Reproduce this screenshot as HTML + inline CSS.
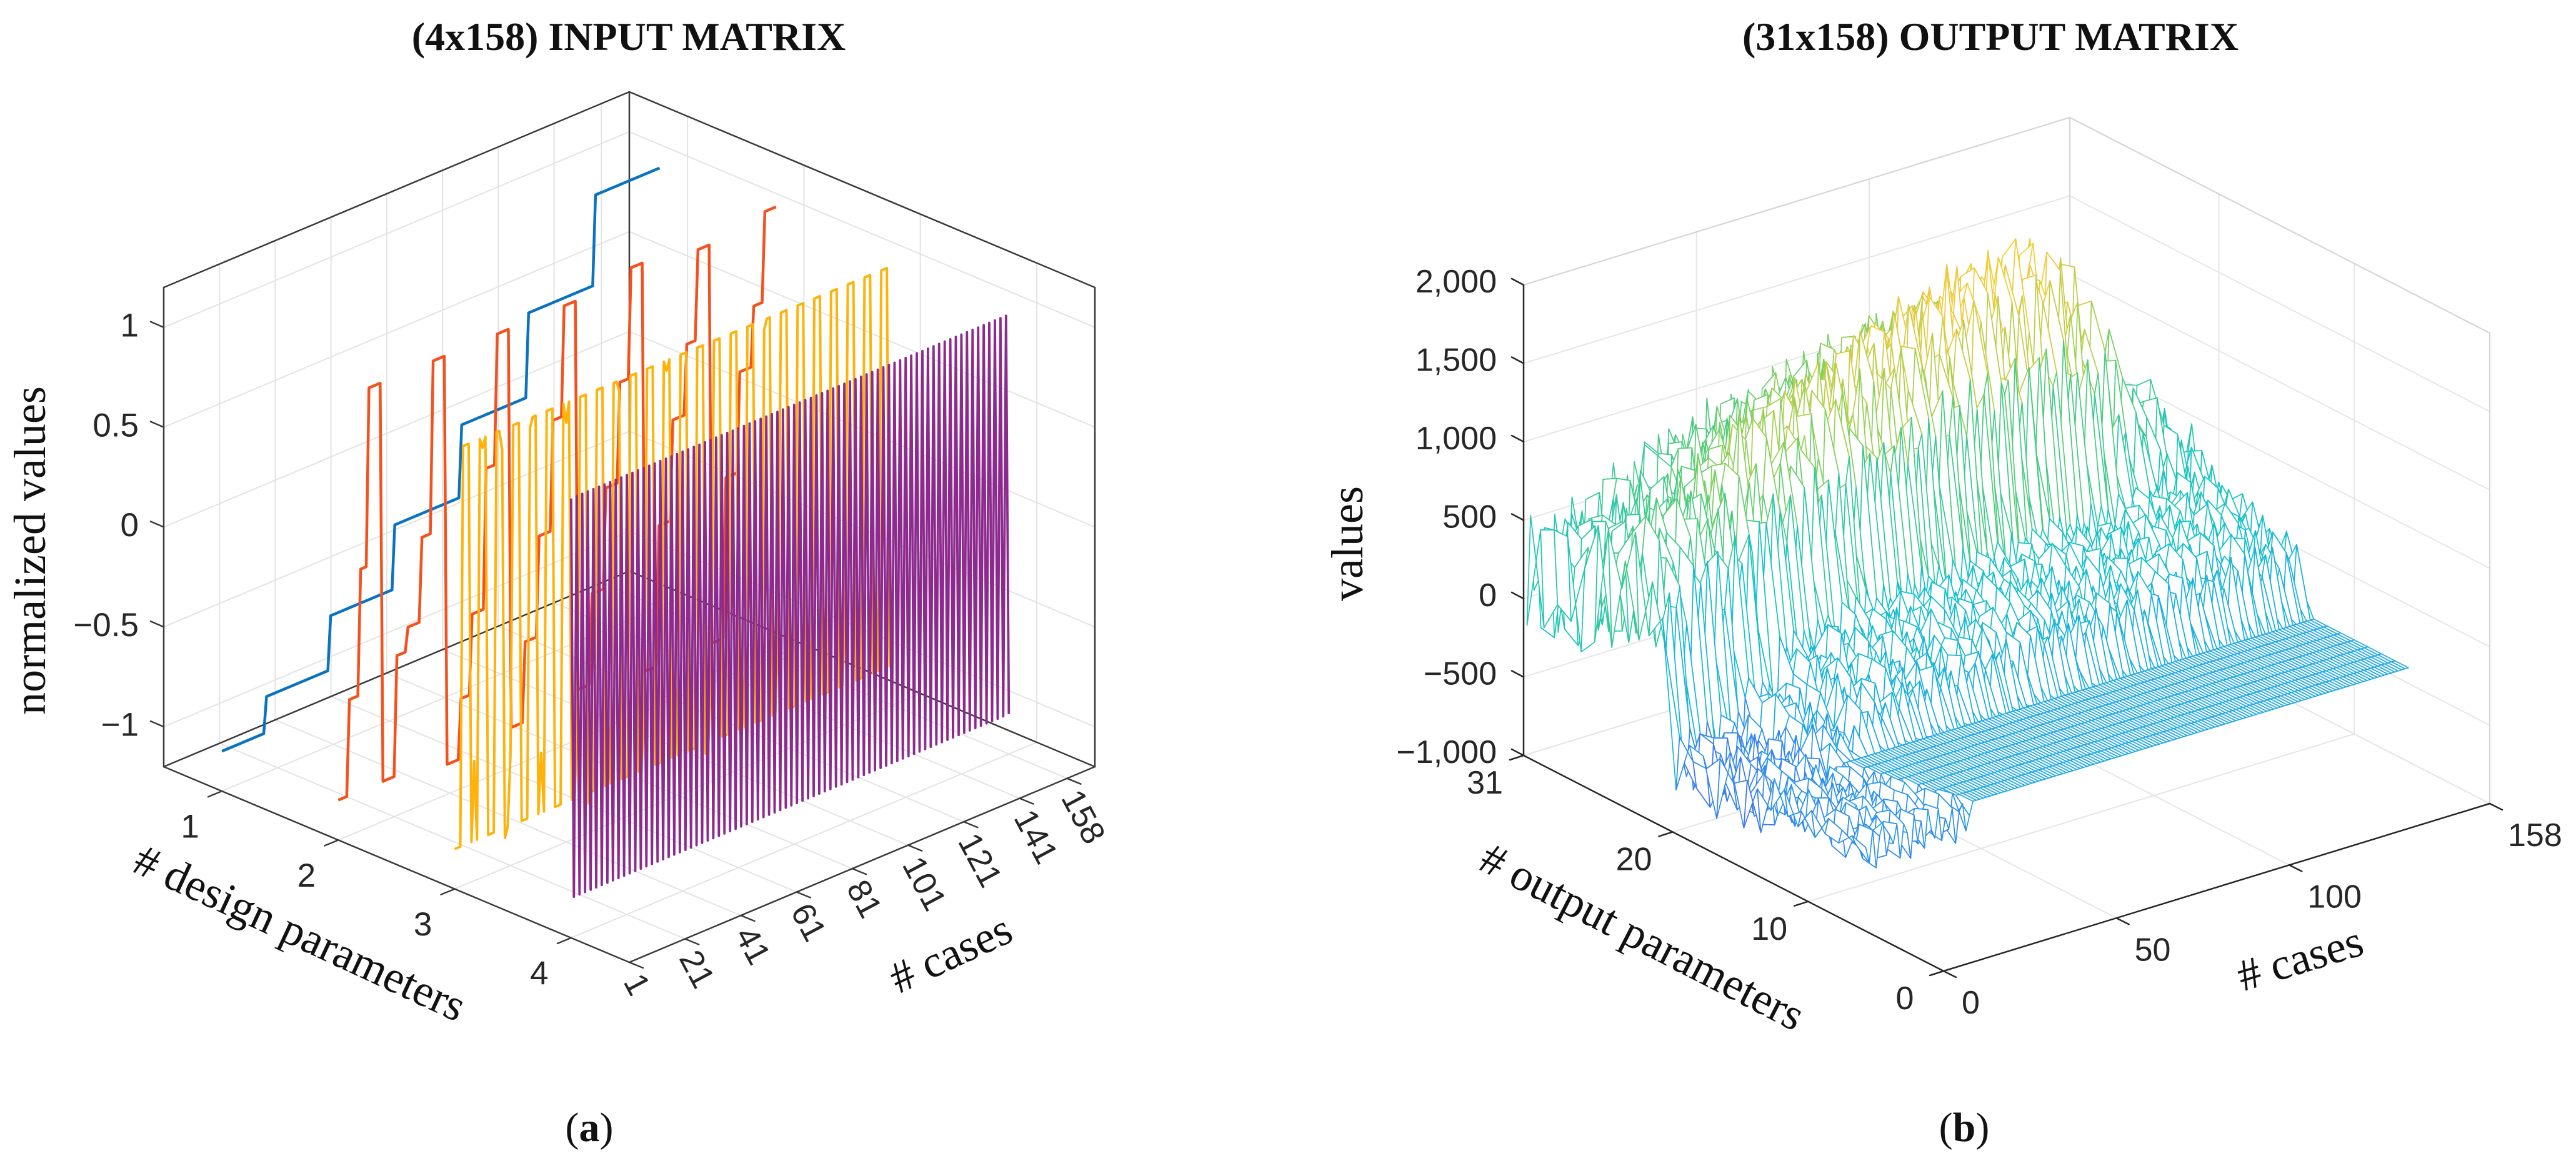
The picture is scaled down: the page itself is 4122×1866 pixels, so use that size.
<!DOCTYPE html>
<html><head><meta charset="utf-8"><title>Input and output matrices</title>
<style>
html,body{margin:0;padding:0;background:#fff;}
svg{display:block;}
.tick{font-family:"Liberation Sans",sans-serif;font-size:53px;fill:#262626;}
.tickb{font-family:"Liberation Sans",sans-serif;font-size:52px;fill:#262626;}
.lab{font-family:"Liberation Serif",serif;font-size:72px;fill:#111;}
.ttl{font-family:"Liberation Serif",serif;font-size:64px;font-weight:bold;fill:#111;}
.cap{font-family:"Liberation Serif",serif;font-size:66px;fill:#111;}
</style></head>
<body>
<svg id="chart" width="4122" height="1866" viewBox="0 0 4122 1866" xmlns="http://www.w3.org/2000/svg">
<rect x="0" y="0" width="4122" height="1866" fill="#fff"/>
<g id="panel-a">
  <text class="ttl" x="1006" y="80" text-anchor="middle">(4x158) INPUT MATRIX</text>
  <g id="pa"></g>
  <text class="lab" transform="translate(72,881) rotate(-90)" text-anchor="middle">normalized values</text>
  <text class="lab" transform="translate(479,1495) rotate(24.9)" text-anchor="middle" dy="0.3em"># design parameters</text>
  <text class="lab" transform="translate(1522,1528) rotate(-24.9)" text-anchor="middle" dy="0.3em"># cases</text>
  <text class="cap" x="943" y="1826" text-anchor="middle">(<tspan font-weight="bold">a</tspan>)</text>
</g>
<g id="panel-b">
  <text class="ttl" x="3185" y="80" text-anchor="middle">(31x158) OUTPUT MATRIX</text>
  <g id="pb"></g>
  <text class="lab" transform="translate(2180,870) rotate(-90)" text-anchor="middle">values</text>
  <text class="lab" transform="translate(2627,1501) rotate(27.2)" text-anchor="middle" dy="0.3em"># output parameters</text>
  <text class="lab" transform="translate(3681,1536) rotate(-17)" text-anchor="middle" dy="0.3em"># cases</text>
  <text class="cap" x="3143" y="1826" text-anchor="middle">(<tspan font-weight="bold">b</tspan>)</text>
</g>
</svg>
<script>
// ---------- Panel (a) data ----------
const caseTicksA = [1, 21, 41, 61, 81, 101, 121, 141, 158];
const paramTicksA = [1, 2, 3, 4];
const zTicksA = [-1, -0.5, 0, 0.5, 1];
const zTickLabelsA = ["\u22121", "\u22120.5", "0", "0.5", "1"];
const blueLevels = [-1, -0.82, -0.55, -0.23, 0.13, 0.55, 1.0];
const blueRuns = [16, 23, 23, 24, 24, 24, 24];
const orangeLevels = [-1,-0.52,0.11,1.0, -1,-0.4,-0.28,0.14,1.0, -1.05,-0.75,-0.35,0.35,1.0, -1,-0.6,-0.1,0.45,1.0, -0.95,-0.5,0,0.5,1.05, -1,-0.3,0.2,0.55,1.0, -1,-0.2,0.3,0.6,1.05];
const orangeRuns = [4,4,3,5, 5,4,5,4,5, 5,4,5,4,5, 5,5,5,4,5, 5,5,5,4,5, 5,5,5,4,5, 5,5,5,4,5];
const yellowValues = [
 -1,-1,-1,1,1,1, -1,-0.6,-1,1,0.95,1, -1,-1,-1,1,1,0.9, -1.05,-1,-0.65,1,1,1,
 -1,-1,-1,0.95,1,1, -1,-0.7,-1,1,1,1, -1,-1,-1,1,0.9,1, -1,-1,-0.6,1,1,1,
 -1.05,-1,-1,1,1,1, -1,-0.65,-1,1,1,0.95, -1,-1,-1,1,1,1, -1,-1,-0.7,1,1,1,
 -1,-1,-1,1,0.95,1, -1,-0.6,-1,1,1,1, -1,-1,-1,1,1,1, -1.05,-1,-0.65,1,1,1,
 -1,-1,-1,1,1,1, -1,-0.7,-1,1,1,1, -1,-1,-1,0.95,1,1, -1,-1,-0.6,1,1,1,
 -1,-1,-1,1,1,1, -1,-0.65,-1,1,1,1, -1,-1,-1,1,1,1, -1,-1,-0.7,1,1,1,
 -1,-1,-1,1,1,1, -1,-0.6,-1,1,1,1,
 -1,-1
];
const purpleValues = [
 1,-1,1,-1,1,-1,1,-1,1,-1,1,-1,1,-1,1,-1,1,-1,1,-1,
 1,-1,1,-1,1,-1,1,-1,1,-1,1,-1,1,-1,1,-1,1,-1,1,-1,
 1,-1,1,-1,1,-1,1,-1,1,-1,1,-1,1,-1,1,-1,1,-1,1,-1,
 1,-1,1,-1,1,-1,1,-1,1,-1,1,-1,1,-1,1,-1,1,-1,1,-1,
 1,-1,1,-1,1,-1,1,-1,1,-1,1,-1,1,-1,1,-1,1,-1,1,-1,
 1,-1,1,-1,1,-1,1,-1,1,-1,1,-1,1,-1,1,-1,1,-1,1,-1,
 1,-1,1,-1,1,-1,1,-1,1,-1,1,-1,1,-1,1,-1,1,-1,1,-1,
 1,-1,1,-1,1,-1,1,-1,1,-1,1,-1,1,-1,1,-1,1,-1
];

// ---------- Panel (b) data ----------
const zTicksB = [-1000, -500, 0, 500, 1000, 1500, 2000];
const zTickLabelsB = ["\u22121,000", "\u2212500", "0", "500", "1,000", "1,500", "2,000"];
const paramTicksB = [0, 10, 20, 31];
const caseTicksB = [0, 50, 100, 158];
const rowGroup = ['n','n','n','n','n','l','l','l','l','l','l','l','l','m','m','m','m','m','m','m','h','h','h','h','h','h','h','h','h','h','h'];
const rowBase = [0,0,0,0,0,-500,-500,-500,-500,-500,-500,-500,-500,-600,-600,-600,-600,-600,-600,-600,-400,-400,-400,-400,-400,-400,-400,-400,-400,-400,-400];
const rowLift = [0,0,0,0,0,0,0,0,0,0,0,0,0,500,550,600,650,700,700,750,1300,1700,1900,1800,1600,1500,1400,1300,1250,1200,1150];
const rowAmp = [0,0,0,0,0,150,150,150,150,150,150,150,150,220,220,220,220,220,220,220,420,420,420,420,420,420,420,420,420,420,420];
const rowFlat = [0,0,0,0,0,32,31,29,28,26,25,24,22,0,0,0,0,0,0,0,0,0,0,0,0,0,0,0,0,0,0];
const rowShift = [0,7,13,21,29,35,42,3,17,51,64,9,27,88,33,71,5,46,99,19,58,113,37,80,11,66,24,95,49,130,15];
const flatLevel = -400;
const envMid = [0.05,0.1,0.3,0.6,0.7,0.75,0.8,0.8,0.85,0.85,0.9,0.9,0.9,0.95,1.0,0.9];
const envHigh = [0.45,0.5,0.6,0.7,0.75,0.8,0.85,0.9,0.95,1.0,1.0,1.0,0.9,0.6,0.4,0.3];
const caseNoise = [
 0.6,-0.8,0.9,-0.3,0.2,-1,0.7,0.1,-0.6,0.8,
 -0.4,0.9,-0.9,0.3,0.5,-0.7,0.95,-0.2,0.4,-0.8,
 0.7,0.0,-0.5,0.85,-0.95,0.3,0.6,-0.4,0.9,-0.7,
 0.2,-0.3,0.8,-0.85,0.5,0.1,-0.6,0.75,-0.9,0.4,
 0.95,-0.5,0.3,-0.1,0.7,-0.8,0.6,0.2,-0.95,0.85,
 -0.3,0.5,-0.7,0.9,0.0,-0.4,0.8,-0.6,0.3,-0.2,
 0.65,-0.9,0.4,0.7,-0.5,0.1,-0.8,0.95,-0.3,0.5,
 -0.7,0.8,0.2,-0.6,0.9,-0.4,0.0,0.6,-0.85,0.75,
 -0.1,0.3,-0.95,0.7,0.4,-0.6,0.85,-0.3,0.5,-0.8,
 0.9,-0.2,0.6,-0.7,0.1,0.8,-0.5,0.3,-0.9,0.7,
 0.2,-0.6,0.95,-0.4,0.5,-0.85,0.7,0.0,-0.3,0.6,
 -0.9,0.4,0.8,-0.5,0.3,-0.7,0.9,-0.1,0.6,-0.8,
 0.5,-0.3,0.7,-0.95,0.2,0.6,-0.4,0.85,-0.6,0.1,
 0.8,-0.7,0.3,0.5,-0.9,0.7,-0.2,0.4,-0.5,0.9,
 -0.6,0.2,0.75,-0.3,0.6,-0.8,0.1,0.95,-0.4,0.3,
 -0.7,0.5,0.8,-0.5,0.2,-0.9,0.6,0.4
];

const NS = 'http://www.w3.org/2000/svg';
function mk(tag, attrs, parent) {
  const e = document.createElementNS(NS, tag);
  for (const k in attrs) e.setAttribute(k, attrs[k]);
  parent.appendChild(e);
  return e;
}
function seg(parent, p1, p2, color, w, name) {
  const el = mk('line', {x1:p1[0].toFixed(1), y1:p1[1].toFixed(1), x2:p2[0].toFixed(1), y2:p2[1].toFixed(1), stroke:color, 'stroke-width':w, 'stroke-linecap':'round'}, parent);
  
  
  return el;
}
function expandRuns(levels, runs) {
  const out = [];
  for (let i = 0; i < levels.length; i++) for (let k = 0; k < runs[i]; k++) out.push(levels[i]);
  return out;
}

// ================= Panel (a) =================
const gA = document.getElementById('pa');
const P0 = 0.5, P1 = 4.5, C0 = 1, C1 = 168, Z0 = -1.2, Z1 = 1.2;
function pA(p, c, z) {
  const a = (p - P0) / (P1 - P0), b = (c - C0) / (C1 - C0);
  return [262 + 745 * a + 745 * b, 1227 + 313 * a - 313 * b - (z - Z0) / (Z1 - Z0) * 767];
}
const GRID = '#e3e3e3', DARK = '#3a3a3a';
zTicksA.forEach(z => { seg(gA, pA(P0, C0, z), pA(P0, C1, z), GRID, 2, 'grid-line'); seg(gA, pA(P0, C1, z), pA(P1, C1, z), GRID, 2, 'grid-line'); });
caseTicksA.forEach(c => { seg(gA, pA(P0, c, Z0), pA(P0, c, Z1), GRID, 2, 'grid-line'); seg(gA, pA(P0, c, Z0), pA(P1, c, Z0), GRID, 2, 'grid-line'); });
paramTicksA.forEach(p => { seg(gA, pA(p, C1, Z0), pA(p, C1, Z1), GRID, 2, 'grid-line'); seg(gA, pA(p, C0, Z0), pA(p, C1, Z0), GRID, 2, 'grid-line'); });
seg(gA, pA(P0, C0, Z1), pA(P0, C1, Z1), DARK, 2.5, 'box-edge');
seg(gA, pA(P0, C1, Z1), pA(P1, C1, Z1), DARK, 2.5, 'box-edge');
seg(gA, pA(P0, C1, Z0), pA(P0, C1, Z1), DARK, 2.5, 'box-edge');
seg(gA, pA(P1, C1, Z0), pA(P1, C1, Z1), DARK, 2.5, 'box-edge');
seg(gA, pA(P0, C0, Z0), pA(P0, C1, Z0), DARK, 2.5, 'box-edge');
seg(gA, pA(P0, C1, Z0), pA(P1, C1, Z0), DARK, 2.5, 'box-edge');

const seriesA = [
  {p: 1, vals: expandRuns(blueLevels, blueRuns), color: '#0a72c0', w: 4.5, name: 'series-param-1'},
  {p: 2, vals: expandRuns(orangeLevels, orangeRuns), color: '#f4511e', w: 4.5, name: 'series-param-2'},
  {p: 3, vals: yellowValues, color: '#ffb20a', w: 4, name: 'series-param-3'},
  {p: 4, vals: purpleValues, color: '#8c2a8e', w: 3.8, name: 'series-param-4'}
];
seriesA.forEach(s => {
  const pts = s.vals.map((v, i) => pA(s.p, i + 1, v)).map(q => q[0].toFixed(1) + ',' + q[1].toFixed(1)).join(' ');
  const pl = mk('polyline', {points: pts, fill: 'none', stroke: s.color, 'stroke-width': s.w, 'stroke-linejoin': 'round'}, gA);
  
  
});

seg(gA, pA(P0, C0, Z0), pA(P0, C0, Z1), DARK, 2.5, 'z-axis-line');
seg(gA, pA(P0, C0, Z0), pA(P1, C0, Z0), DARK, 2.5, 'param-axis-line');
seg(gA, pA(P1, C0, Z0), pA(P1, C1, Z0), DARK, 2.5, 'cases-axis-line');
zTicksA.forEach((z, i) => {
  const q = pA(P0, C0, z);
  seg(gA, q, [q[0] - 21, q[1] - 9], DARK, 2.5, 'z-tick');
  const t = mk('text', {x: 222, y: (q[1] - 4).toFixed(1), 'text-anchor': 'end', dy: '0.35em', class: 'tick'}, gA);
  
  
  t.textContent = zTickLabelsA[i];
});
paramTicksA.forEach(p => {
  const q = pA(p, C0, Z0);
  seg(gA, q, [q[0] - 22, q[1] + 9], DARK, 2.5, 'param-tick');
  const t = mk('text', {x: (q[0] - 51).toFixed(1), y: (q[1] + 56).toFixed(1), 'text-anchor': 'middle', dy: '0.35em', class: 'tick'}, gA);
  
  
  t.textContent = String(p);
});
caseTicksA.forEach(c => {
  const q = pA(P1, c, Z0);
  seg(gA, q, [q[0] + 22, q[1] + 9], DARK, 2.5, 'case-tick');
  const t = mk('text', {transform: 'translate(' + (q[0] + 6).toFixed(1) + ',' + (q[1] + 22).toFixed(1) + ') rotate(62)', 'text-anchor': 'start', dy: '0.35em', class: 'tick'}, gA);
  
  
  t.textContent = String(c);
});

// ================= Panel (b) =================
const gB = document.getElementById('pb');
const BP0 = 0, BP1 = 31, BC0 = 0, BC1 = 158, BZ0 = -1000, BZ1 = 2000;
function pB(p, c, z) {
  const a = (BP1 - p) / (BP1 - BP0), b = (c - BC0) / (BC1 - BC0);
  return [2438 + 672 * a + 874 * b, 1209 + 345 * a - 268 * b - (z - BZ0) / (BZ1 - BZ0) * 753];
}
const LIGHT = '#d6d6d6', GRIDB = '#e6e6e6', DARKB = '#262626';
zTicksB.forEach(z => { seg(gB, pB(BP1, BC0, z), pB(BP1, BC1, z), GRIDB, 2, 'grid-line'); seg(gB, pB(BP1, BC1, z), pB(BP0, BC1, z), GRIDB, 2, 'grid-line'); });
caseTicksB.forEach(c => { seg(gB, pB(BP1, c, BZ0), pB(BP1, c, BZ1), GRIDB, 2, 'grid-line'); seg(gB, pB(BP1, c, BZ0), pB(BP0, c, BZ0), GRIDB, 2, 'grid-line'); });
paramTicksB.forEach(p => { seg(gB, pB(p, BC1, BZ0), pB(p, BC1, BZ1), GRIDB, 2, 'grid-line'); seg(gB, pB(p, BC0, BZ0), pB(p, BC1, BZ0), GRIDB, 2, 'grid-line'); });
seg(gB, pB(BP1, BC0, BZ1), pB(BP1, BC1, BZ1), LIGHT, 2.2, 'box-edge');
seg(gB, pB(BP1, BC1, BZ1), pB(BP0, BC1, BZ1), LIGHT, 2.2, 'box-edge');
seg(gB, pB(BP1, BC1, BZ0), pB(BP1, BC1, BZ1), LIGHT, 2.2, 'box-edge');
seg(gB, pB(BP0, BC1, BZ0), pB(BP0, BC1, BZ1), LIGHT, 2.2, 'box-edge');

function parula(t) {
  const st = [[0,[105,92,236]],[0.12,[70,110,240]],[0.2,[30,168,232]],[0.35,[20,196,200]],[0.5,[70,204,132]],[0.65,[160,210,80]],[0.8,[240,200,60]],[1,[250,238,30]]];
  t = Math.max(0, Math.min(1, t));
  for (let i = 1; i < st.length; i++) {
    if (t <= st[i][0]) {
      const f = (t - st[i-1][0]) / (st[i][0] - st[i-1][0]);
      const c = st[i-1][1].map((v, k) => Math.round(v + (st[i][1][k] - v) * f));
      return 'rgb(' + c.join(',') + ')';
    }
  }
  return 'rgb(250,238,30)';
}
const nRows = rowGroup.length, nCases = caseNoise.length;
const Z = [];
for (let i = 0; i < nRows; i++) {
  const row = [];
  for (let j = 0; j < nCases; j++) {
    const g = rowGroup[i];
    let z;
    if (g === 'n') z = null;
    else if (rowFlat[i] && j + 1 >= rowFlat[i]) z = flatLevel;
    else {
      const env = g === 'm' ? envMid[Math.floor(j / 10)] : (g === 'h' ? envHigh[Math.floor(j / 10)] : 0);
      z = rowBase[i] + rowLift[i] * env + rowAmp[i] * caseNoise[(j + rowShift[i]) % nCases];
    }
    row.push(z);
  }
  Z.push(row);
}
const quads = [];
for (let i = 0; i < nRows - 1; i++) {
  for (let j = 0; j < nCases - 1; j++) {
    const zs = [Z[i][j], Z[i][j+1], Z[i+1][j+1], Z[i+1][j]];
    if (zs.some(v => v === null)) continue;
    const near = ((BP1 - (i + 1.5)) / 31) - ((j + 1.5) / 158);
    quads.push({i, j, zs, near});
  }
}
quads.sort((A, B) => A.near - B.near);
const meshG = mk('g', {}, gB);


quads.forEach(q => {
  const {i, j, zs} = q;
  const pts = [pB(i + 1, j + 1, zs[0]), pB(i + 1, j + 2, zs[1]), pB(i + 2, j + 2, zs[2]), pB(i + 2, j + 1, zs[3])];
  const avg = (zs[0] + zs[1] + zs[2] + zs[3]) / 4;
  const poly = mk('polygon', {points: pts.map(p => p[0].toFixed(1) + ',' + p[1].toFixed(1)).join(' '), fill: '#fff', stroke: parula((avg - BZ0) / (BZ1 - BZ0)), 'stroke-width': 1.7, 'stroke-linejoin': 'round'}, meshG);
  
  
});

seg(gB, pB(BP1, BC0, BZ0), pB(BP1, BC0, BZ1), DARKB, 2.5, 'z-axis-line-b');
seg(gB, pB(BP1, BC0, BZ0), pB(BP0, BC0, BZ0), DARKB, 2.5, 'param-axis-line-b');
seg(gB, pB(BP0, BC0, BZ0), pB(BP0, BC1, BZ0), DARKB, 2.5, 'cases-axis-line-b');
zTicksB.forEach((z, i) => {
  const q = pB(BP1, BC0, z);
  seg(gB, q, [q[0] - 19, q[1] - 10], DARKB, 2.5, 'z-tick-b');
  const t = mk('text', {x: 2395, y: (q[1] - 6).toFixed(1), 'text-anchor': 'end', dy: '0.35em', class: 'tickb'}, gB);
  
  
  t.textContent = zTickLabelsB[i];
});
paramTicksB.forEach(p => {
  const q = pB(p, BC0, BZ0);
  seg(gB, q, [q[0] - 22, q[1] + 7], DARKB, 2.5, 'param-tick-b');
  const t = mk('text', {x: (q[0] - 62).toFixed(1), y: (q[1] + 43).toFixed(1), 'text-anchor': 'middle', dy: '0.35em', class: 'tickb'}, gB);
  
  
  t.textContent = String(p);
});
caseTicksB.forEach(c => {
  const q = pB(BP0, c, BZ0);
  seg(gB, q, [q[0] + 20, q[1] + 10], DARKB, 2.5, 'case-tick-b');
  const t = mk('text', {x: (q[0] + 29).toFixed(1), y: (q[1] + 50).toFixed(1), 'text-anchor': 'start', dy: '0.35em', class: 'tickb'}, gB);
  
  
  t.textContent = String(c);
});
</script>
</body></html>
